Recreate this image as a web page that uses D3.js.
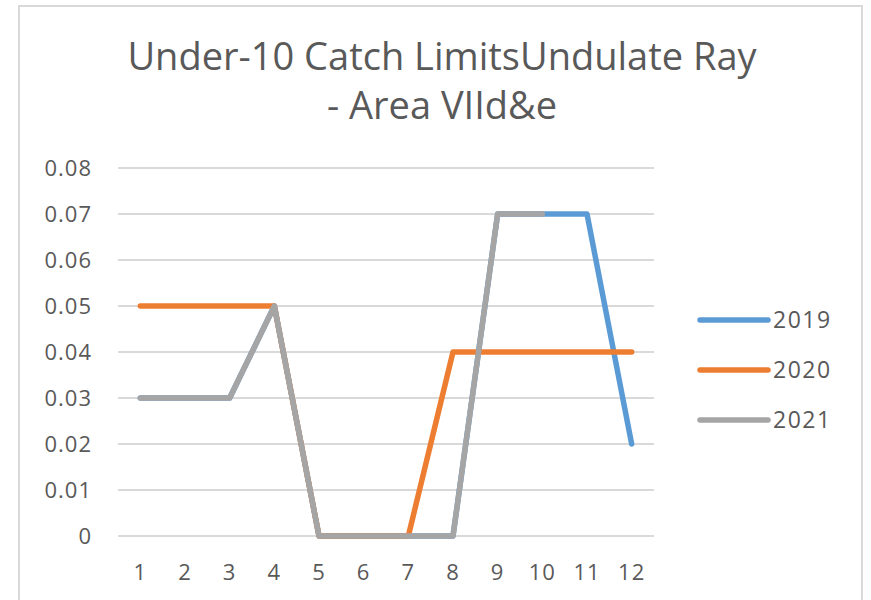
<!DOCTYPE html>
<html>
<head>
<meta charset="utf-8">
<script src="https://cdn.jsdelivr.net/npm/d3@7"></script>
<style>
  body { margin: 0; background: #fff; }
  svg { display: block; }
</style>
</head>
<body>
<svg id="chart" width="871" height="600"></svg>
<script>
// chart data
var Months = ["1", "2", "3", "4", "5", "6", "7", "8", "9", "10", "11", "12"];
var Values2019 = [0.03, 0.03, 0.03, 0.05, 0, 0, 0, 0, 0.07, 0.07, 0.07, 0.02];
var Values2020 = [0.05, 0.05, 0.05, 0.05, 0, 0, 0, 0.04, 0.04, 0.04, 0.04, 0.04];
var Values2021 = [0.03, 0.03, 0.03, 0.05, 0, 0, 0, 0, 0.07, 0.07, null, null];
var SeriesNames = ["2019", "2020", "2021"];
var YTicks = [0, 0.01, 0.02, 0.03, 0.04, 0.05, 0.06, 0.07, 0.08];

var Colors = ["#5B9BD5", "#ED7D31", "#A5A5A5"];
var FontName = "'Open Sans', 'Liberation Sans', sans-serif";

function DrawChart() {
    var svg = d3.select("#chart");
    var series = [Values2019, Values2020, Values2021];

    // outer chart frame
    svg.append("rect")
       .attr("x", 19).attr("y", 6)
       .attr("width", 843).attr("height", 620)
       .attr("fill", "#fff")
       .attr("stroke", "#d9d9d9")
       .attr("stroke-width", 2);

    // title
    var title = svg.append("text")
       .attr("text-anchor", "middle")
       .style("font-family", FontName)
       .style("font-size", "38px")
       .style("fill", "#595959");
    title.append("tspan").attr("x", 442).attr("y", 70).text("Under-10 Catch LimitsUndulate Ray");
    title.append("tspan").attr("x", 442).attr("y", 119).text("- Area VIId&e");

    var plot = {left: 118, right: 654, top: 168, bottom: 536};

    var xScale = d3.scaleBand().domain(Months).range([plot.left, plot.right]);
    var yScale = d3.scaleLinear().domain([0, 0.08]).range([plot.bottom, plot.top]);

    // gridlines
    svg.append("g")
       .selectAll("line").data(YTicks).enter()
       .append("line")
       .attr("x1", plot.left).attr("x2", plot.right)
       .attr("y1", function(d) { return yScale(d); })
       .attr("y2", function(d) { return yScale(d); })
       .attr("stroke", "#d9d9d9")
       .attr("stroke-width", 2);

    // y axis labels
    var yAxis = svg.append("g")
       .attr("transform", "translate(" + (plot.left - 26) + ",0)")
       .call(d3.axisLeft(yScale).tickValues(YTicks).tickSize(0).tickPadding(0)
             .tickFormat(function(d) { return d === 0 ? "0" : d3.format(".2f")(d); }));
    yAxis.select(".domain").remove();
    yAxis.selectAll("text")
       .style("font-family", FontName)
       .style("font-size", "22px")
       .style("letter-spacing", "1px")
       .style("fill", "#595959");

    // x axis labels
    var xAxis = svg.append("g")
       .attr("transform", "translate(0," + (plot.bottom + 36) + ")")
       .call(d3.axisBottom(xScale).tickSize(0).tickPadding(0));
    xAxis.select(".domain").remove();
    xAxis.selectAll("text")
       .attr("dy", "0.35em")
       .style("font-family", FontName)
       .style("font-size", "22px")
       .style("letter-spacing", "1px")
       .style("fill", "#595959");

    // lines
    var line = d3.line()
       .defined(function(d) { return d !== null; })
       .x(function(d, i) { return xScale(Months[i]) + xScale.bandwidth() / 2; })
       .y(function(d) { return yScale(d); });

    svg.append("g")
       .selectAll("path").data(series).enter()
       .append("path")
       .attr("d", function(d) { return line(d); })
       .attr("fill", "none")
       .attr("stroke", function(d, i) { return Colors[i]; })
       .attr("stroke-width", 5.5)
       .attr("stroke-linejoin", "round")
       .attr("stroke-linecap", "round");

    // legend
    var legend = svg.append("g")
       .selectAll("g").data(SeriesNames).enter()
       .append("g")
       .attr("transform", function(d, i) { return "translate(700," + (320 + i * 50) + ")"; });
    legend.append("line")
       .attr("x1", 0).attr("x2", 68)
       .attr("stroke", function(d, i) { return Colors[i]; })
       .attr("stroke-width", 5.5)
       .attr("stroke-linecap", "round");
    legend.append("text")
       .attr("x", 73)
       .attr("dy", "0.35em")
       .style("font-family", FontName)
       .style("font-size", "23px")
       .style("letter-spacing", "1.5px")
       .style("fill", "#595959")
       .text(function(d) { return d; });
}

DrawChart();
</script>
</body>
</html>
